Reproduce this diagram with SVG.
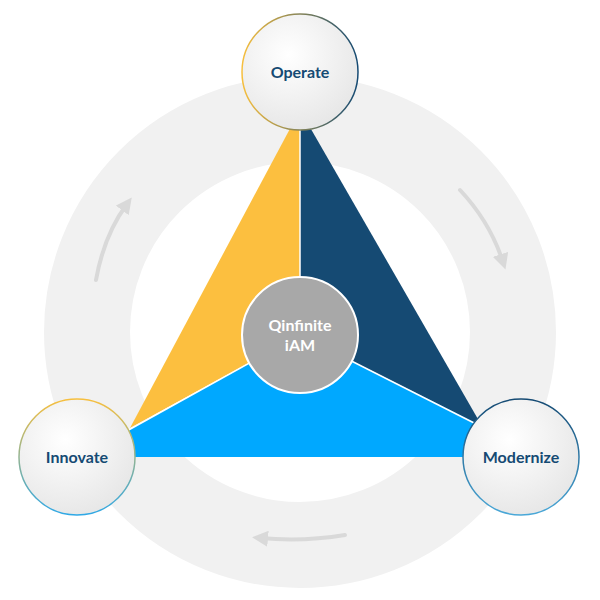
<svg xmlns="http://www.w3.org/2000/svg" width="600" height="600" viewBox="0 0 600 600">
<defs>
<style>
.lbl{font-family:"Lato","Liberation Sans",sans-serif;font-weight:bold;font-size:16px;fill:#154a73;text-anchor:middle}
.ctr{font-family:"Lato","Liberation Sans",sans-serif;font-weight:bold;font-size:16px;fill:#ffffff;text-anchor:middle}
.node{fill:url(#ng)}
.arr{fill:none;stroke:#d9d9d9;stroke-width:4;stroke-linecap:round}
.sep{stroke:#ffffff;stroke-width:1.5}
</style>
<radialGradient id="ng" cx="0.4" cy="0.35" r="0.7"><stop offset="0" stop-color="#ffffff"/><stop offset="1" stop-color="#e6e6e6"/></radialGradient>
<linearGradient id="bo" x1="0" y1="0" x2="1" y2="0"><stop offset="0" stop-color="#f7bf3e"/><stop offset="1" stop-color="#154a73"/></linearGradient>
<linearGradient id="bi" x1="0" y1="0" x2="0" y2="1"><stop offset="0" stop-color="#f7bf3e"/><stop offset="1" stop-color="#2fa8e6"/></linearGradient>
<linearGradient id="bm" x1="0" y1="0" x2="0" y2="1"><stop offset="0" stop-color="#154a73"/><stop offset="1" stop-color="#4aa8d8"/></linearGradient>
<marker id="ah" viewBox="0 0 10 10" refX="5" refY="5" markerWidth="4" markerHeight="4" orient="auto"><path d="M0,0 L10,5 L0,10 z" fill="#d9d9d9"/></marker>
</defs>
<rect width="600" height="600" fill="#ffffff"/>
<circle cx="300" cy="332" r="213" fill="none" stroke="#f1f1f1" stroke-width="86"/>
<g id="connectors">
<path class="arr" d="M96,280 Q104,235 127,204" marker-end="url(#ah)"/>
<path class="arr" d="M460,190 Q490,222 503,262" marker-end="url(#ah)"/>
<path class="arr" d="M345,535 Q303,542 260,538" marker-end="url(#ah)"/>
</g>
<g id="triangle">
<polygon points="300,110 490,440 300,335" fill="#154a73"/>
<polygon points="300,335 110,440 110,457 490,457 490,430" fill="#00a8ff"/>
<polygon points="300,110 130,428 300,335" fill="#fcbf3f"/>
<line class="sep" x1="300" y1="110" x2="300" y2="335"/>
<line class="sep" x1="300" y1="335" x2="125" y2="432"/>
<line class="sep" x1="300" y1="335" x2="478" y2="425"/>
</g>
<g id="center">
<circle cx="300" cy="335" r="58" fill="#a8a8a8" stroke="#fff" stroke-width="2"/>
<text class="ctr" x="300" y="331">Qinfinite</text>
<text class="ctr" x="300" y="351">iAM</text>
</g>
<g id="operate"><circle class="node" cx="300" cy="72" r="58" stroke="url(#bo)" stroke-width="1.5"/><text class="lbl" x="300" y="78">Operate</text></g>
<g id="innovate"><circle class="node" cx="77" cy="457" r="58" stroke="url(#bi)" stroke-width="1.5"/><text class="lbl" x="77" y="463">Innovate</text></g>
<g id="modernize"><circle class="node" cx="521" cy="457" r="58" stroke="url(#bm)" stroke-width="1.5"/><text class="lbl" x="521" y="463">Modernize</text></g>
</svg>
